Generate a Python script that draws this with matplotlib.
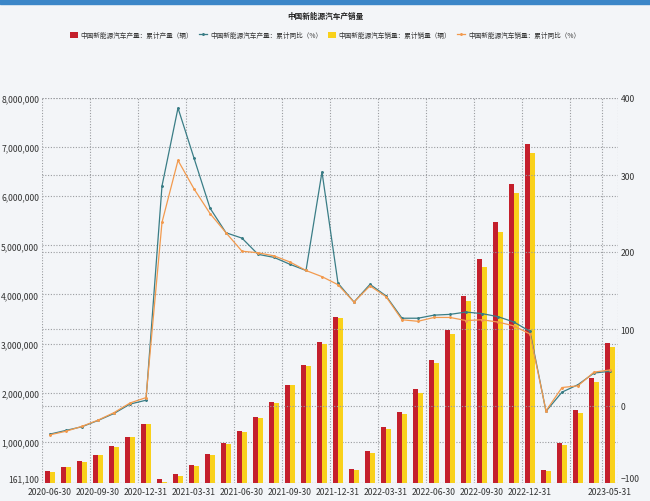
import numpy as np
import matplotlib
matplotlib.use("Agg")
import matplotlib.pyplot as plt
from matplotlib.patches import Rectangle

plt.rcParams['font.family'] = ['Noto Sans CJK SC', 'DejaVu Sans']

# month-end dates (categories)
dates = [
    "2020-06-30", "2020-07-31", "2020-08-31", "2020-09-30", "2020-10-31", "2020-11-30", "2020-12-31",
    "2021-01-31", "2021-02-28", "2021-03-31", "2021-04-30", "2021-05-31", "2021-06-30",
    "2021-07-31", "2021-08-31", "2021-09-30", "2021-10-31", "2021-11-30", "2021-12-31",
    "2022-01-31", "2022-02-28", "2022-03-31", "2022-04-30", "2022-05-31", "2022-06-30",
    "2022-07-31", "2022-08-31", "2022-09-30", "2022-10-31", "2022-11-30", "2022-12-31",
    "2023-01-31", "2023-02-28", "2023-03-31", "2023-04-30", "2023-05-31",
]

# cumulative production / sales (vehicles)
prod = [397000, 497000, 600000, 731000, 905000, 1106000, 1366000,
        242000, 350000, 533000, 751000, 966000, 1215000,
        1500000, 1809000, 2166000, 2566000, 3023000, 3545000,
        452000, 818000, 1293000, 1605000, 2071000, 2661000,
        3279000, 3970000, 4717000, 5485000, 6253000, 7058000,
        425000, 977000, 1650000, 2291000, 3005000]
sales = [393000, 486000, 596000, 732000, 899000, 1100000, 1367000,
         179000, 300000, 515000, 730000, 950000, 1206000,
         1478000, 1799000, 2157000, 2540000, 2990000, 3521000,
         431000, 769000, 1257000, 1556000, 2003000, 2600000,
         3194000, 3860000, 4567000, 5280000, 6067000, 6887000,
         408000, 933000, 1586000, 2222000, 2940000]

# cumulative YoY (%)
prod_yoy = [-36.5, -31.7, -26.9, -18.8, -9.7, 2.5, 7.5,
            285.8, 387, 322, 257, 225, 218,
            197, 193, 184, 176, 304, 159.5,
            135, 158, 143, 114, 114, 118,
            119, 122, 120, 116, 109, 96.9,
            -6.9, 18, 27.7, 42.8, 45.1]
sales_yoy = [-37.4, -32.8, -26.4, -18.4, -8.6, 3.9, 10.9,
             238.5, 319, 282, 250, 225, 201,
             199, 195, 187, 176, 168, 157.5,
             135, 156, 142, 112, 110, 115,
             115, 111, 112, 109, 104, 93.4,
             -6.3, 24, 26.2, 44, 46.8]

left_ticks = [161100, 1000000, 2000000, 3000000, 4000000, 5000000, 6000000, 7000000, 8000000]
right_ticks = [-100, 0, 100, 200, 300, 400]
label_idx = [0, 3, 6, 9, 12, 15, 18, 21, 24, 27, 30, 35]
grid_idx = [0, 3, 6, 9, 12, 15, 18, 21, 24, 27, 30, 33, 35, 36]

bg = "#f3f5f8"
gridc = "#9a9ca0"
txtc = "#333333"

fig = plt.figure(figsize=(6.5, 5.02), dpi=100)
fig.patch.set_facecolor(bg)
ax = fig.add_axes([42 / 650, 1 - 484 / 502, (618 - 42) / 650, (484 - 99) / 502])
ax.set_facecolor(bg)
ax2 = ax.twinx()

x = np.arange(len(dates))
ax.bar(x - 0.165, prod, width=0.33, color="#c41f2c", zorder=2,
       label="中国新能源汽车产量：累计产量（辆）")
ax.bar(x + 0.165, sales, width=0.33, color="#f9d11b", zorder=2,
       label="中国新能源汽车销量：累计销量（辆）")
ax2.plot(x, prod_yoy, color="#3a7d86", lw=0.9, marker="D", ms=1.0,
         label="中国新能源汽车产量：累计同比（%）")
ax2.plot(x, sales_yoy, color="#f29a4e", lw=0.9, marker="D", ms=1.0,
         label="中国新能源汽车销量：累计同比（%）")

ax.set_xlim(-0.5, 35.5)
ax.set_ylim(161100, 8000000)
ax2.set_ylim(-100, 400)

ax.set_xticks(label_idx)
ax.set_xticklabels([dates[i] for i in label_idx])
ax.set_xticks([i - 0.5 for i in grid_idx], minor=True)
ax.set_yticks(left_ticks)
ax.set_yticklabels([f"{v:,}" for v in left_ticks])
ax2.set_yticks(right_ticks)

gs = dict(color=gridc, linestyle=(0, (1, 1.5)), linewidth=0.8)
ax.grid(axis="x", which="minor", **gs)
ax.grid(axis="y", which="major", **gs)
ax2.grid(axis="y", which="major", **gs)
ax.set_axisbelow(True)

for a in (ax, ax2):
    for s in a.spines.values():
        s.set_visible(False)
    a.tick_params(which="both", length=0, labelsize=6.2, colors=txtc, pad=2)
ax.tick_params(axis="x", pad=3)

# lift the lowest y labels so they sit above the date labels
ax.get_yticklabels()[0].set_verticalalignment("bottom")
ax2.get_yticklabels()[0].set_verticalalignment("bottom")

# title and legend
fig.add_artist(Rectangle((0, 1 - 5 / 502), 1, 5 / 502, transform=fig.transFigure,
                         color="#3b86c8", zorder=5))
fig.text(0.5, 1 - 17 / 502, "中国新能源汽车产销量", ha="center", va="center",
         fontsize=5.5, fontweight="bold", color="#222222")

h1, l1 = ax.get_legend_handles_labels()
h2, l2 = ax2.get_legend_handles_labels()
handles = [h1[0], h2[0], h1[1], h2[1]]
labels = [l1[0], l2[0], l1[1], l2[1]]
fig.legend(handles, labels, loc="center", bbox_to_anchor=(0.5, 1 - 36 / 502), ncol=4,
           frameon=False, fontsize=4.8, handlelength=1.2, handleheight=1.0,
           handletextpad=0.4, columnspacing=0.9, labelcolor=txtc)

fig.savefig("out.png", dpi=100, facecolor=fig.get_facecolor())
